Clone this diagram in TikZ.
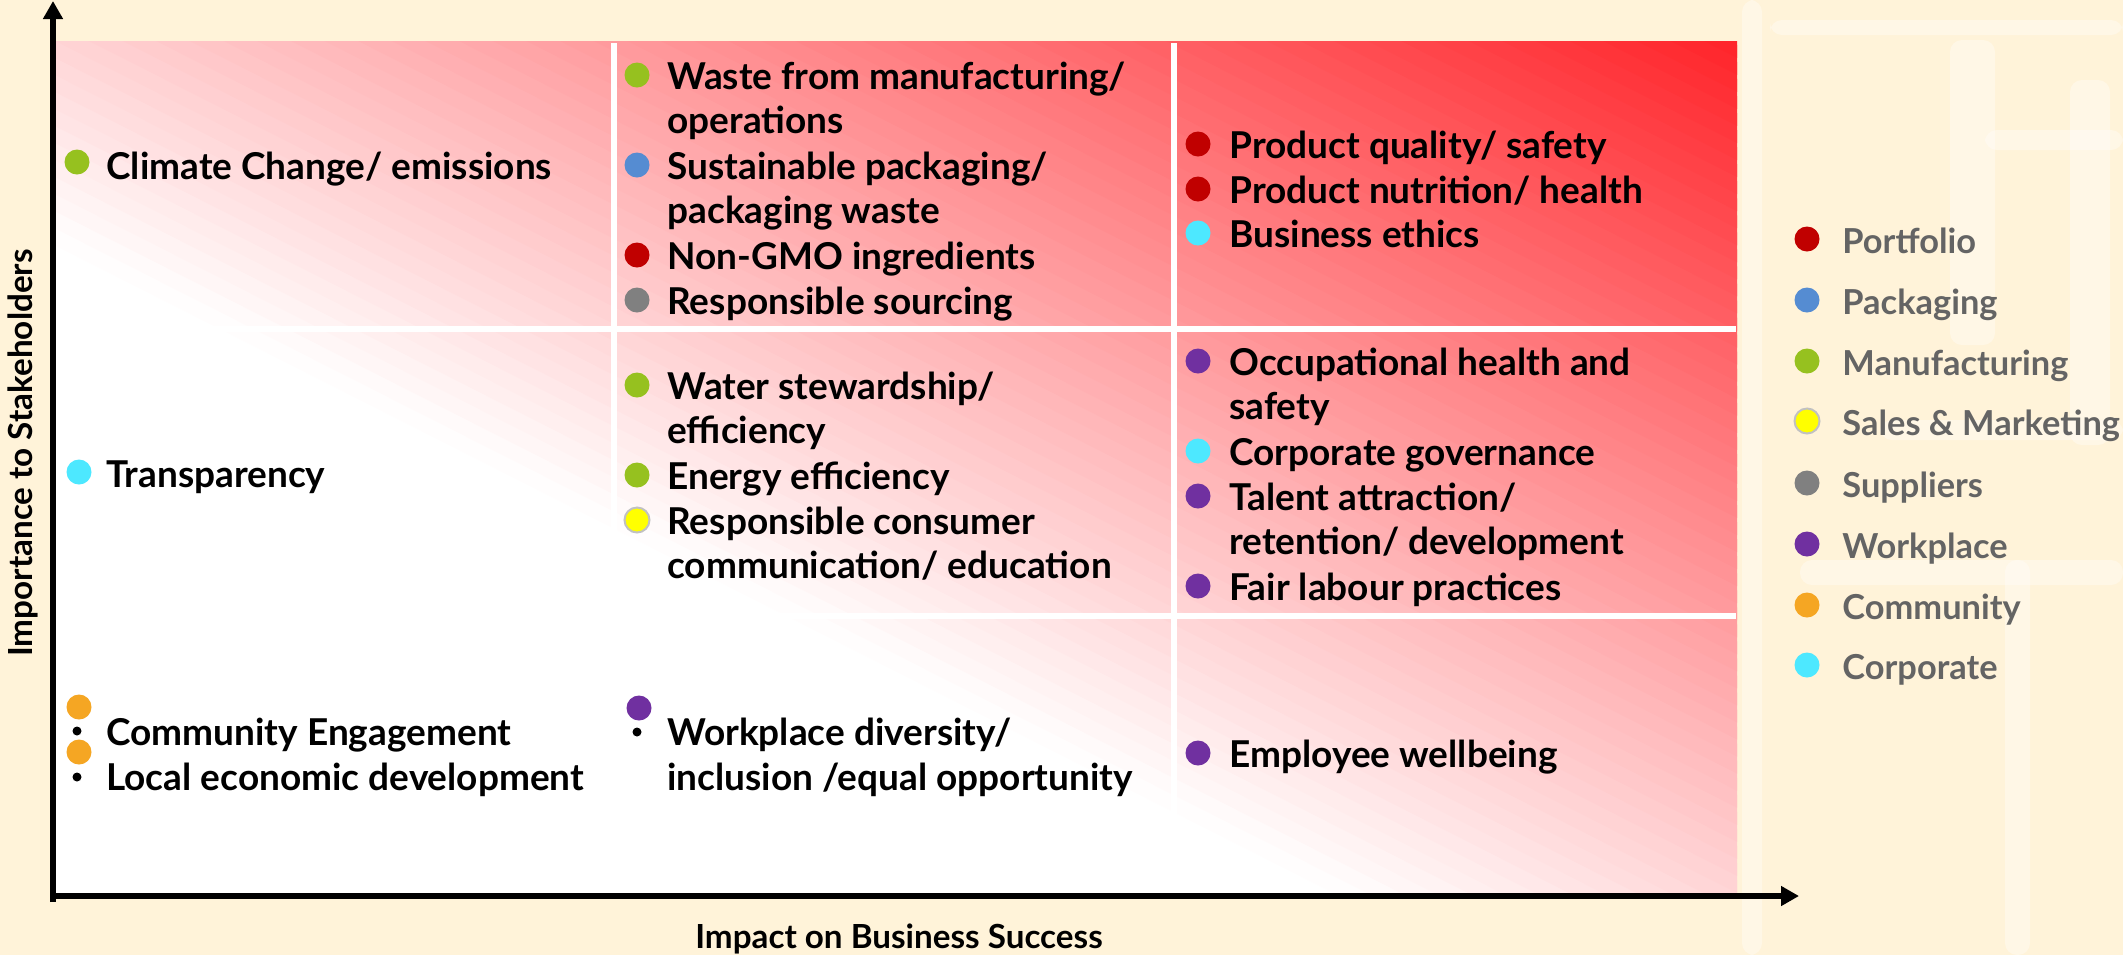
\documentclass[tikz,border=0pt]{standalone}
\usepackage{fontspec}
\setmainfont{Lato}
\usetikzlibrary{positioning, arrows.meta}

\definecolor{cream}{RGB}{255,243,217}
\definecolor{hotred}{RGB}{255,36,42}
\definecolor{portfolio}{RGB}{192,0,0}
\definecolor{packaging}{RGB}{85,140,210}
\definecolor{manufacturing}{RGB}{150,193,31}
\definecolor{sales}{RGB}{255,255,0}
\definecolor{suppliers}{RGB}{128,128,128}
\definecolor{workplace}{RGB}{112,48,160}
\definecolor{community}{RGB}{245,166,35}
\definecolor{corporate}{RGB}{77,232,255}
\definecolor{keygray}{RGB}{100,100,100}

\begin{document}
\begin{tikzpicture}[x=0.5pt, y=-0.5pt,
    item/.style={anchor=base west, align=left, inner sep=0pt, font=\fontsize{18.5}{22.35}\selectfont\bfseries},
    keytext/.style={anchor=base west, inner sep=0pt, text=keygray, font=\fontsize{17.2}{21}\selectfont\bfseries},
    axistitle/.style={anchor=base, inner sep=0pt, font=\fontsize{16.6}{20}\selectfont\bfseries},
    dot/.style={circle, fill=#1, inner sep=0pt, minimum size=12.5pt},
    tick/.style={circle, fill=black, inner sep=0pt, minimum size=4.5pt},
    divider/.style={white, line width=3pt},
    axis/.style={line width=3pt, -{Triangle[length=9pt, width=9.5pt]}},
    blot/.style={white, opacity=0.35, rounded corners=6pt}
]

% page
\fill[cream] (0,0) rectangle (2123,955);
\useasboundingbox (0,0) rectangle (2123,955);
\foreach \xa/\ya/\xb/\yb in {
    1742/0/1762/955, 1950/40/1995/345, 1985/130/2123/150,
    2070/80/2110/445, 1800/560/2123/585, 2005/560/2030/955,
    1770/20/2123/35, 1880/420/2123/440}
    \fill[blot] (\xa,\ya) rectangle (\xb,\yb);

% matrix: bands along the anti-diagonal, white below, red to the top right
\begin{scope}[shift={(55,893)}, x={(841pt,0pt)}, y={(0pt,426pt)}]
    \clip (0,0) rectangle (1,1);
    \foreach \c in {0,0.02,...,2} {
        \pgfmathsetmacro\p{max(0, min(100, ((\c+0.01)/2-0.38)/0.62*100))}
        \fill[hotred!\p!white] (\c+1,-1) -- (\c+1.035,-1) -- (\c-1.965,2) -- (\c-2,2) -- cycle;
    }
\end{scope}
\draw[divider] (614,43) -- (614,893);
\draw[divider] (1174,43) -- (1174,893);
\draw[divider] (55,329) -- (1736,329);
\draw[divider] (55,616) -- (1736,616);

% axes
\coordinate (origin) at (53,896);
\coordinate (y_end) at (53,1);
\coordinate (x_end) at (1799,896);
\draw[axis] ([yshift=-3pt]origin) -- (y_end);
\draw[axis] ([xshift=-1.5pt]origin) -- (x_end);
\node[axistitle, rotate=90] (importance) at (32.5,453) {Importance to Stakeholders};
\node[axistitle] (impact) at (899,948) {Impact on Business Success};

% left column
\node[dot=manufacturing] (climate_dot) at (77,162) {};
\node[item] (climate) at (106,179) {Climate Change/ emissions};
\node[dot=corporate] (transparency_dot) at (79,472) {};
\node[item] (transparency) at (106,487) {Transparency};
\node[dot=community] (engagement_dot) at (79,707) {};
\node[tick] (engagement_tick) at (77,731) {};
\node[item] (engagement) at (106,745) {Community Engagement};
\node[dot=community] (local_dot) at (79,752) {};
\node[tick] (local_tick) at (77,777) {};
\node[item] (local) at (106,790) {Local economic development};

% middle column (\yy is the first baseline, \nl the number of lines)
\foreach \name/\col/\yy/\nl/\txt in {
    waste/manufacturing/89/2/{Waste from manufacturing/\\operations},
    packaging_waste/packaging/179/2/{Sustainable packaging/\\packaging waste},
    non_gmo/portfolio/269/1/{Non-GMO ingredients},
    sourcing/suppliers/314/1/{Responsible sourcing},
    water/manufacturing/399/2/{Water stewardship/\\efficiency},
    energy/manufacturing/489/1/{Energy efficiency},
    consumer/sales/534/2/{Responsible consumer\\communication/ education}}
{
    \node[dot=\col] (\name_dot) at (637,\yy-14) {};
    \node[item] (\name) at (667,{\yy+44.7*(\nl-1)}) {\txt};
}
\draw[keygray!40, line width=1pt] (consumer_dot) circle (6.25pt);
\node[dot=workplace] (diversity_dot) at (639,708) {};
\node[tick] (diversity_tick) at (637,732) {};
\node[item] (diversity) at (667,790) {Workplace diversity/\\inclusion /equal opportunity};

% right column
\foreach \name/\col/\yy/\nl/\txt in {
    quality/portfolio/158/1/{Product quality/ safety},
    nutrition/portfolio/203/1/{Product nutrition/ health},
    ethics/corporate/247/1/{Business ethics},
    health/workplace/375/2/{Occupational health and\\safety},
    governance/corporate/465/1/{Corporate governance},
    talent/workplace/510/2/{Talent attraction/\\retention/ development},
    labour/workplace/600/1/{Fair labour practices},
    wellbeing/workplace/767/1/{Employee wellbeing}}
{
    \node[dot=\col] (\name_dot) at (1198,\yy-14) {};
    \node[item] (\name) at (1229,{\yy+44.7*(\nl-1)}) {\txt};
}

% key
\foreach \col/\yy/\txt in {
    portfolio/239/Portfolio, packaging/300/Packaging,
    manufacturing/361/Manufacturing, sales/421/{Sales \& Marketing},
    suppliers/483/Suppliers, workplace/544/Workplace,
    community/605/Community, corporate/665/Corporate}
{
    \node[dot=\col] (\col_key) at (1807,\yy) {};
    \node[keytext] (\col_label) at (1842,\yy+14) {\txt};
}
\draw[keygray!40, line width=1pt] (sales_key) circle (6.25pt);

\end{tikzpicture}
\end{document}
